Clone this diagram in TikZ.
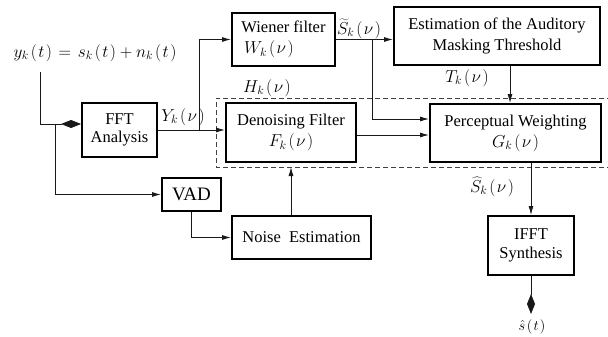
\documentclass[tikz,border=0pt]{standalone}
\usepackage[no-math]{fontspec}
\setmainfont{Liberation Serif}
\usetikzlibrary{arrows.meta,calc}
\newcommand{\myarg}[1]{\mkern2mu(\mkern1.5mu#1\mkern1.5mu)}
\tikzset{
  blk/.style={draw=black,line width=1.8pt,inner sep=2pt,font=\fontsize{16.5}{21}\selectfont,align=center},
  conn/.style={draw=black!90,line width=0.9pt,-{Latex[length=9pt,width=5pt]}},
  plain/.style={draw=black!90,line width=0.9pt},
  dia/.style={draw=black!90,line width=0.9pt,-{Diamond[length=20pt,width=8pt]}},
  lbl/.style={font=\fontsize{16.5}{20}\selectfont,inner sep=0pt},
  frame/.style={draw=black!75,line width=1pt,dash pattern=on 5pt off 3pt}
}
\begin{document}
\begin{tikzpicture}[x=1pt,y=-1pt]
\useasboundingbox (0,0) rectangle (608,337);
% boxes
\node[blk,minimum width=75pt,minimum height=54pt,font=\fontsize{16.5}{18.5}\selectfont] (fft) at (119.5,130) {FFT\\Analysis};
\node[blk,minimum width=103pt,minimum height=53pt,align=left] (wie) at (283.5,39.5) {Wiener filter\\\,$W_k\myarg{\nu}$};
\node[blk,minimum width=130pt,minimum height=59pt] (den) at (291,132.5) {\raisebox{-4pt}{Denoising Filter}\\\raisebox{-4pt}{$F_k\myarg{\nu}$}};
\node[blk,minimum width=171pt,minimum height=58pt] (pw) at (515.5,133) {\raisebox{-4pt}{Perceptual Weighting}\\\raisebox{-4pt}{$G_k\myarg{\nu}$}};
\node[blk,minimum width=206pt,minimum height=58pt] (est) at (497,36) {Estimation of the Auditory\\Masking Threshold};
\node[blk,minimum width=59pt,minimum height=33pt,font=\fontsize{19}{22}\selectfont] (vad) at (191.5,194.5) {VAD};
\node[blk,minimum width=139pt,minimum height=43pt] (noise) at (301.5,237.5) {Noise~~Estimation};
\node[blk,minimum width=86pt,minimum height=59pt,font=\fontsize{16.5}{19}\selectfont] (ifft) at (531,245.5) {IFFT\\Synthesis};
% labels
\node[lbl,font=\fontsize{17.5}{20}\selectfont] (eq) at (95,53) {$y_k\myarg{t}\mkern2mu=\mkern2mu s_k\myarg{t}+n_k\myarg{t}$};
\node[lbl] (ylab) at (183,117) {$Y_k\myarg{\nu}$};
\node[lbl] (slab) at (359,29) {$\widetilde{S}_k\myarg{\nu}$};
\node[lbl] (tlab) at (467,78) {$T_k\myarg{\nu}$};
\node[lbl] (hlab) at (267,88) {$H_k\myarg{\nu}$};
\node[lbl] (shlab) at (492,187) {$\widehat{S}_k\myarg{\nu}$};
\node[lbl,font=\fontsize{14.5}{16}\selectfont] (outlab) at (532,327) {$\hat{s}\myarg{t}$};
% dashed frame
\coordinate (hTL) at (216,98);
\coordinate (hBL) at (216,167);
\draw[frame] (612,98) -- (hTL) -- (hBL) -- (612,167);
% coordinates
\coordinate (in) at (40,72);
\coordinate (j1) at (40,124);
\coordinate (j2) at (55,124);
\coordinate (j3) at (199,130);
\coordinate (j4) at (372,39.5);
\coordinate (tx) at (510,0);
\coordinate (out) at (531,314);
\coordinate (d1) at ($(den.east)+(0,2.5)$);
\coordinate (p1) at ($(pw.west)+(0,-14)$);
% connectors
\draw[plain] (in) -- (j1) -- (j2);
\draw[dia] (j2) -- (j1 -| fft.west);
\draw[conn] (j2) |- (vad.west);
\draw[conn] (fft.east) -- (fft.east -| den.west);
\draw[conn] (j3) |- (wie.west);
\draw[conn] (wie.east) -- (wie.east -| est.west);
\draw[conn] (j4) |- (p1);
\draw[conn] (d1) -- (d1 -| pw.west);
\draw[conn] (est.south -| tx) -- (pw.north -| tx);
\draw[conn] (ifft.north |- pw.south) -- (ifft.north);
\draw[dia] (ifft.south) -- (out);
\draw[conn] (noise.north -| den.south) -- (hBL -| den.south);
\draw[conn] (vad.south) |- (noise.west);
\end{tikzpicture}
\end{document}
